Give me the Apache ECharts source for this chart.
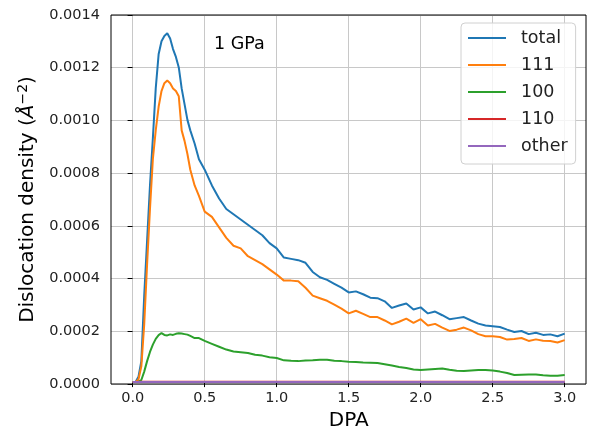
<!DOCTYPE html>
<html>
<head>
<meta charset="utf-8">
<script src="https://cdn.jsdelivr.net/npm/echarts@6/dist/echarts.min.js"></script>
<style>
html,body{margin:0;padding:0;background:#fff;}
#chart{width:589px;height:436px;}
</style>
</head>
<body>
<div id="chart"></div>
<script>
const dpa = [0,0.02,0.04,0.06,0.08,0.10,0.12,0.14,0.16,0.18,0.20,0.22,0.24,0.26,0.28,0.30,0.32,0.34,0.36,0.38,0.40,0.43,0.46,
  0.50,0.55,0.60,0.65,0.70,0.75,0.80,0.85,0.90,0.95,1.00,1.05,1.10,1.15,1.20,1.25,1.30,1.35,1.40,1.45,1.50,1.55,1.60,1.65,1.70,1.75,
  1.80,1.85,1.90,1.95,2.00,2.05,2.10,2.15,2.20,2.25,2.30,2.35,2.40,2.45,2.50,2.55,2.60,2.65,2.70,2.75,2.80,2.85,2.90,2.95,3.00];

const total = [0,0,0.2e-4,0.8e-4,3.3e-4,5.4e-4,7.5e-4,9.3e-4,11.2e-4,12.5e-4,13.0e-4,13.2e-4,13.3e-4,13.1e-4,12.7e-4,12.4e-4,12.0e-4,11.2e-4,10.6e-4,10.0e-4,9.6e-4,9.1e-4,8.5e-4,
  8.1e-4,7.5e-4,7.0e-4,6.6e-4,6.4e-4,6.2e-4,6.0e-4,5.8e-4,5.6e-4,5.3e-4,5.1e-4,4.75e-4,4.7e-4,4.65e-4,4.55e-4,4.2e-4,4.0e-4,3.9e-4,3.75e-4,3.6e-4,3.42e-4,3.46e-4,3.35e-4,3.22e-4,3.2e-4,3.08e-4,
  2.83e-4,2.92e-4,3.0e-4,2.77e-4,2.85e-4,2.62e-4,2.69e-4,2.55e-4,2.4e-4,2.44e-4,2.48e-4,2.35e-4,2.23e-4,2.16e-4,2.13e-4,2.1e-4,2.0e-4,1.91e-4,1.95e-4,1.83e-4,1.88e-4,1.8e-4,1.82e-4,1.75e-4,1.85e-4];

const s111 = [0,0,0.1e-4,0.6e-4,2.2e-4,4.5e-4,6.6e-4,8.5e-4,9.6e-4,10.5e-4,11.1e-4,11.4e-4,11.5e-4,11.4e-4,11.2e-4,11.1e-4,10.9e-4,9.6e-4,9.2e-4,8.7e-4,8.1e-4,7.5e-4,7.1e-4,
  6.5e-4,6.3e-4,5.9e-4,5.5e-4,5.2e-4,5.1e-4,4.8e-4,4.65e-4,4.5e-4,4.3e-4,4.1e-4,3.87e-4,3.87e-4,3.85e-4,3.6e-4,3.3e-4,3.2e-4,3.1e-4,2.95e-4,2.8e-4,2.62e-4,2.72e-4,2.6e-4,2.48e-4,2.48e-4,2.35e-4,
  2.2e-4,2.3e-4,2.42e-4,2.26e-4,2.4e-4,2.16e-4,2.22e-4,2.08e-4,1.95e-4,2.0e-4,2.08e-4,1.97e-4,1.83e-4,1.75e-4,1.75e-4,1.72e-4,1.62e-4,1.64e-4,1.68e-4,1.57e-4,1.63e-4,1.58e-4,1.57e-4,1.51e-4,1.6e-4];

const s100 = [0,0,0.01e-4,0.08e-4,0.4e-4,0.8e-4,1.15e-4,1.43e-4,1.65e-4,1.79e-4,1.87e-4,1.8e-4,1.78e-4,1.82e-4,1.8e-4,1.84e-4,1.86e-4,1.85e-4,1.83e-4,1.81e-4,1.76e-4,1.68e-4,1.68e-4,
  1.57e-4,1.46e-4,1.35e-4,1.24e-4,1.17e-4,1.14e-4,1.11e-4,1.04e-4,1.01e-4,0.95e-4,0.92e-4,0.83e-4,0.81e-4,0.8e-4,0.82e-4,0.83e-4,0.85e-4,0.85e-4,0.81e-4,0.8e-4,0.78e-4,0.77e-4,0.75e-4,0.74e-4,0.73e-4,0.68e-4,
  0.63e-4,0.58e-4,0.54e-4,0.48e-4,0.46e-4,0.48e-4,0.5e-4,0.52e-4,0.47e-4,0.43e-4,0.42e-4,0.44e-4,0.46e-4,0.46e-4,0.44e-4,0.4e-4,0.35e-4,0.27e-4,0.28e-4,0.29e-4,0.29e-4,0.26e-4,0.24e-4,0.24e-4,0.27e-4];

const s110 = [0,0.005e-4,0.01e-4,0.01e-4,0.01e-4,0.01e-4,0.01e-4,0.01e-4,0.01e-4,0.01e-4,0.01e-4,0.01e-4,0.01e-4,0.01e-4,0.01e-4,0.01e-4,0.01e-4,0.01e-4,0.01e-4,0.01e-4,0.01e-4,0.01e-4,0.01e-4,
  0.01e-4,0.01e-4,0.01e-4,0.01e-4,0.01e-4,0.01e-4,0.01e-4,0.01e-4,0.01e-4,0.01e-4,0.01e-4,0.01e-4,0.01e-4,0.01e-4,0.01e-4,0.01e-4,0.01e-4,0.01e-4,0.01e-4,0.01e-4,0.01e-4,0.01e-4,0.01e-4,0.01e-4,0.01e-4,0.01e-4,
  0.01e-4,0.01e-4,0.01e-4,0.01e-4,0.01e-4,0.01e-4,0.01e-4,0.01e-4,0.01e-4,0.01e-4,0.01e-4,0.01e-4,0.01e-4,0.01e-4,0.01e-4,0.01e-4,0.01e-4,0.01e-4,0.01e-4,0.01e-4,0.01e-4,0.01e-4,0.01e-4,0.01e-4,0.01e-4];

const other = [0,0.002e-4,0.004e-4,0.004e-4,0.004e-4,0.004e-4,0.004e-4,0.004e-4,0.004e-4,0.004e-4,0.004e-4,0.004e-4,0.004e-4,0.004e-4,0.004e-4,0.004e-4,0.004e-4,0.004e-4,0.004e-4,0.004e-4,0.004e-4,0.004e-4,0.004e-4,
  0.004e-4,0.004e-4,0.004e-4,0.004e-4,0.004e-4,0.004e-4,0.004e-4,0.004e-4,0.004e-4,0.004e-4,0.004e-4,0.004e-4,0.004e-4,0.004e-4,0.004e-4,0.004e-4,0.004e-4,0.004e-4,0.004e-4,0.004e-4,0.004e-4,0.004e-4,0.004e-4,0.004e-4,0.004e-4,0.004e-4,
  0.004e-4,0.004e-4,0.004e-4,0.004e-4,0.004e-4,0.004e-4,0.004e-4,0.004e-4,0.004e-4,0.004e-4,0.004e-4,0.004e-4,0.004e-4,0.004e-4,0.004e-4,0.004e-4,0.004e-4,0.004e-4,0.004e-4,0.004e-4,0.004e-4,0.004e-4,0.004e-4,0.004e-4,0.004e-4];

const seriesNames = ['total', '111', '100', '110', 'other'];
const seriesValues = [total, s111, s100, s110, other];
const colors = ['#1f77b4', '#ff7f0e', '#2ca02c', '#d62728', '#9467bd'];
const xTickMin = 0, xTickMax = 3, xTickStep = 0.5;
const yTickMin = 0, yTickMax = 0.0014, yTickStep = 0.0002;
const annotation = '1 GPa';

const FONT = 'DejaVu Sans';
const chart = echarts.init(document.getElementById('chart'), null, {renderer: 'canvas'});

const option = {
  animation: false,
  backgroundColor: '#ffffff',
  textStyle: {fontFamily: FONT},
  grid: [
    {left: 111, right: 3, top: 15, bottom: 52, show: true, borderColor: '#000', borderWidth: 1, backgroundColor: 'transparent', containLabel: false, z: 10},
    {left: 132.7, right: 24.3, top: 15, bottom: 52, show: false, containLabel: false}
  ],
  xAxis: [
    {gridIndex: 0, type: 'value', min: -0.15, max: 3.15, show: false},
    {gridIndex: 1, type: 'value', min: xTickMin, max: xTickMax, interval: xTickStep,
     name: 'DPA', nameLocation: 'middle', nameGap: 26,
     nameTextStyle: {fontFamily: FONT, fontSize: 20, color: '#000'},
     axisLine: {show: false},
     axisTick: {show: true, inside: false, length: 5, lineStyle: {color: '#000', width: 1}},
     axisLabel: {fontFamily: FONT, fontSize: 14.5, color: '#222', margin: 9, formatter: v => v.toFixed(1)},
     splitLine: {show: true, lineStyle: {color: '#c8c8c8', width: 1}}}
  ],
  yAxis: [
    {gridIndex: 0, type: 'value', min: yTickMin, max: yTickMax, interval: yTickStep,
     name: 'Dislocation density ({it|Å}{sup|−2})', nameLocation: 'middle', nameGap: 72, nameRotate: 90,
     nameTextStyle: {fontFamily: FONT, fontSize: 20, color: '#000',
       rich: {it: {fontFamily: FONT, fontSize: 20, fontStyle: 'italic', color: '#000'},
              sup: {fontFamily: FONT, fontSize: 14, color: '#000', padding: [0, 0, 9, 0]}}},
     axisLine: {show: false},
     axisTick: {show: true, inside: false, length: 5, lineStyle: {color: '#000', width: 1}},
     axisLabel: {fontFamily: FONT, fontSize: 14.5, color: '#222', margin: 11, formatter: v => v.toFixed(4)},
     splitLine: {show: true, lineStyle: {color: '#c8c8c8', width: 1}}},
    {gridIndex: 1, type: 'value', min: yTickMin, max: yTickMax, show: false, splitLine: {show: false}}
  ],
  legend: {
    orient: 'vertical', left: 461, top: 23,
    padding: [5, 8, 8, 7],
    itemGap: 7, itemWidth: 38, itemHeight: 2, icon: 'rect',
    backgroundColor: 'rgba(255,255,255,0.8)', borderColor: '#d0d0d0', borderWidth: 1, borderRadius: 4,
    textStyle: {fontFamily: FONT, fontSize: 17.5, color: '#222', lineHeight: 20, padding: [0, 0, 0, 10]},
    data: seriesNames
  },
  graphic: [
    {type: 'text', x: 214, y: 44, z: 10,
     style: {text: annotation, fontFamily: FONT, fontSize: 17.5, fill: '#000', textVerticalAlign: 'middle', textAlign: 'left'}}
  ],
  series: seriesNames.map((name, k) => ({
    name: name, type: 'line', xAxisIndex: 1, yAxisIndex: 1,
    symbol: 'none', showSymbol: false, smooth: false,
    lineStyle: {color: colors[k], width: 2},
    itemStyle: {color: colors[k]},
    z: 3 + k,
    data: dpa.map((x, i) => [x, seriesValues[k][i]])
  }))
};
chart.setOption(option);
</script>
</body>
</html>
